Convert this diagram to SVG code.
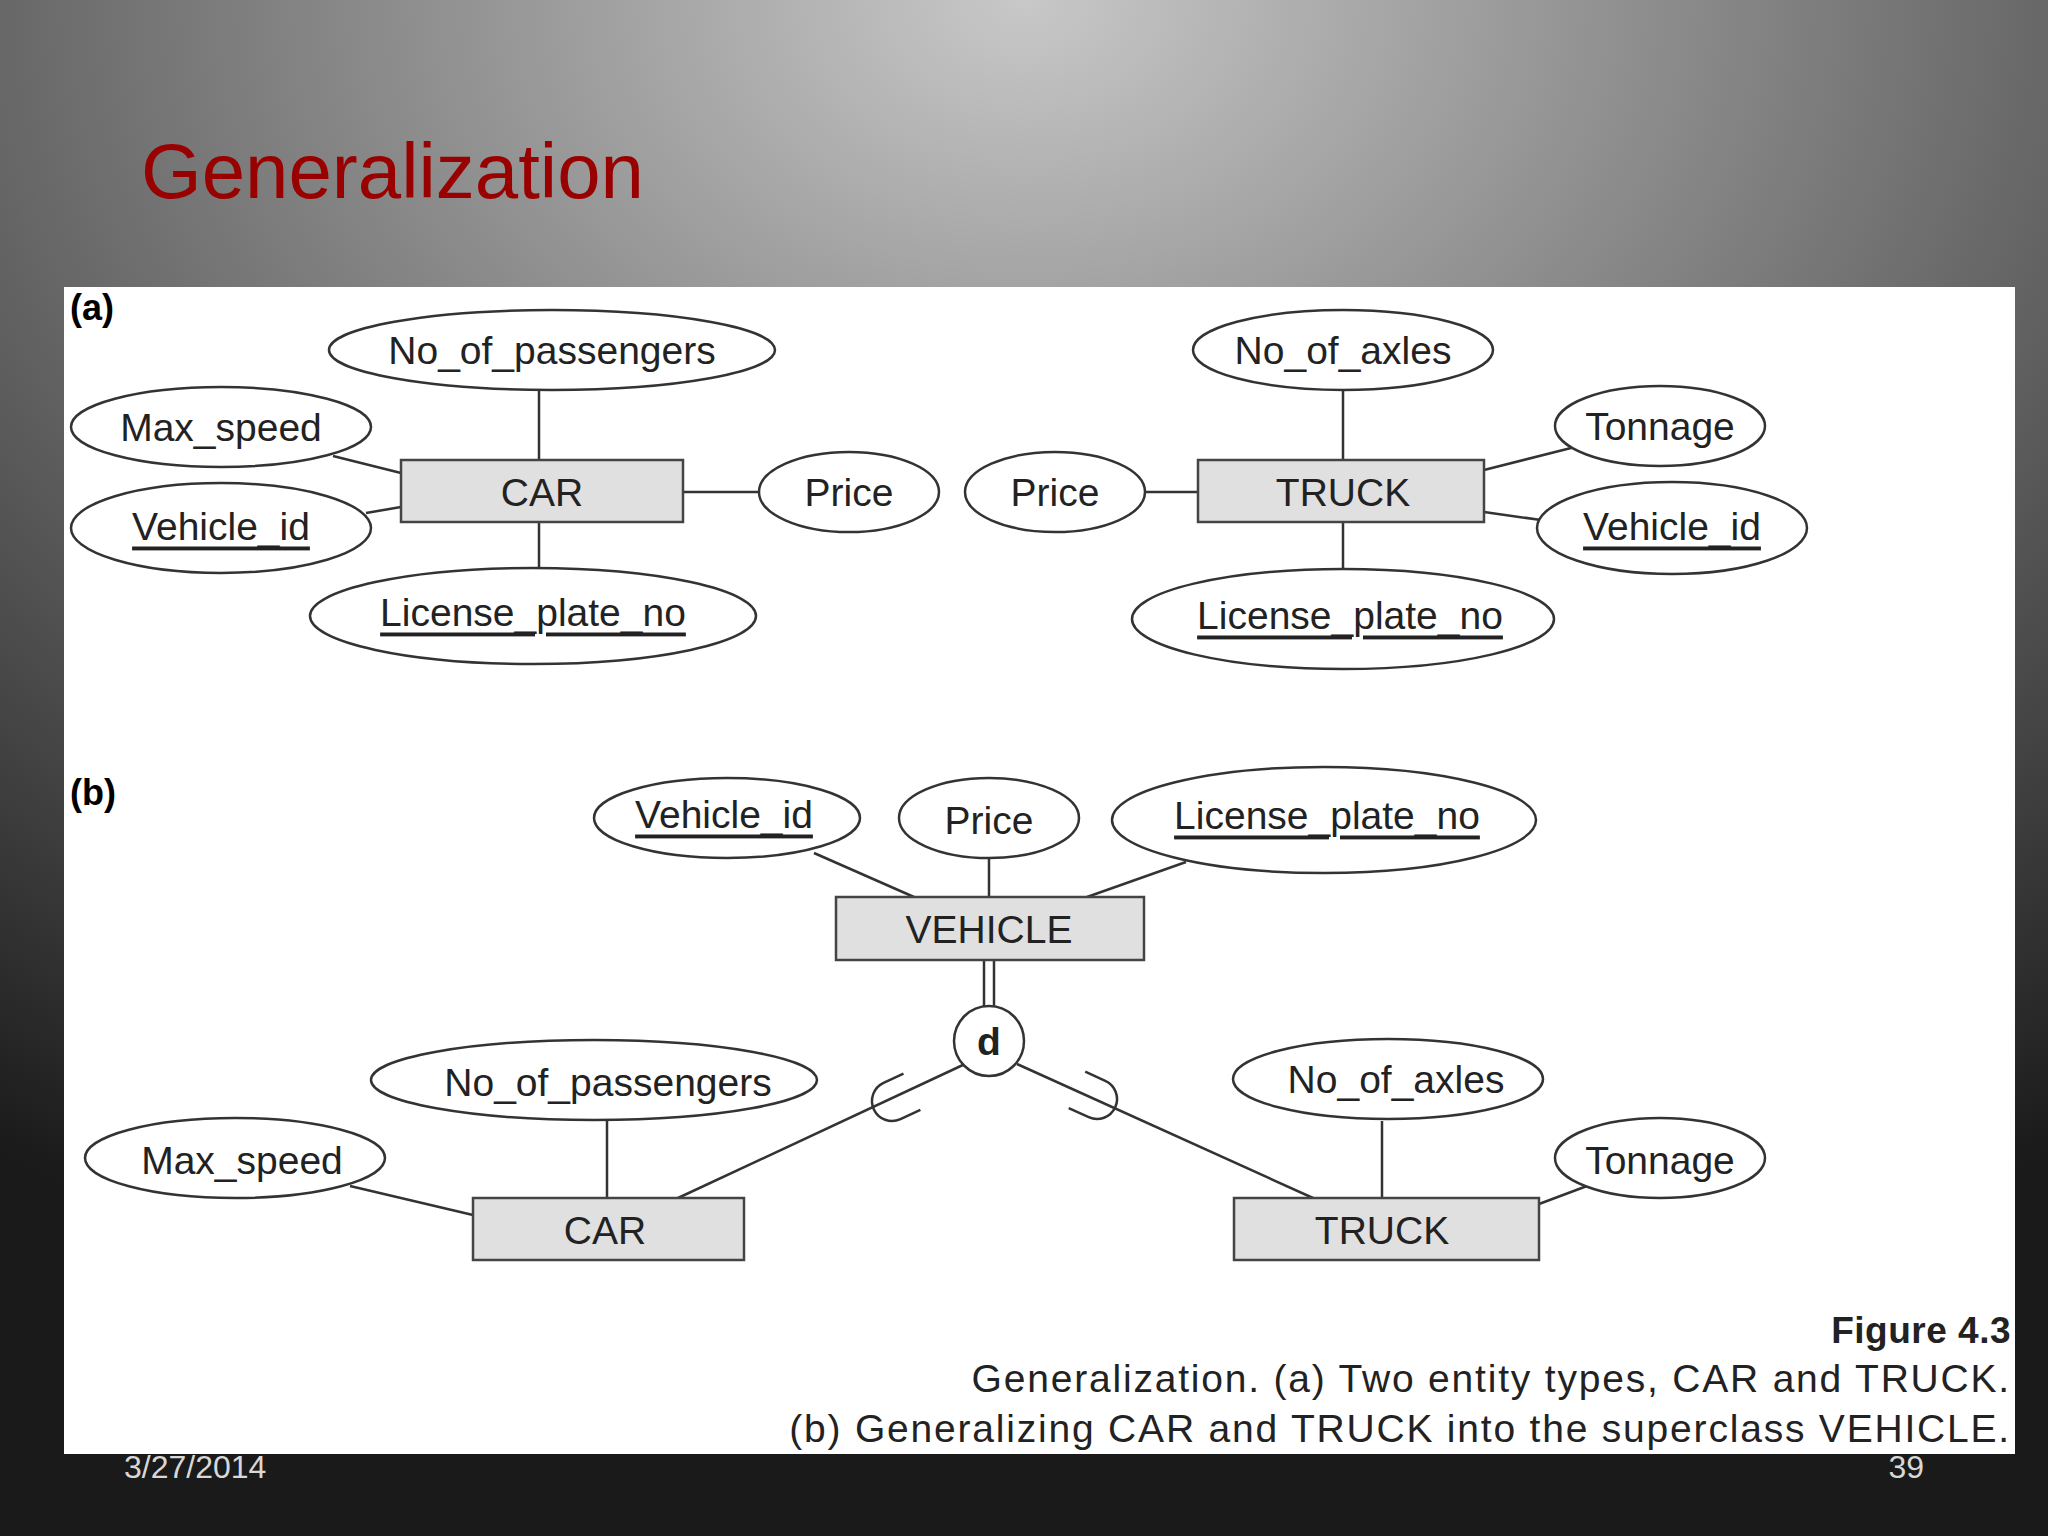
<svg xmlns="http://www.w3.org/2000/svg" width="2048" height="1536" viewBox="0 0 2048 1536">
<defs>
<radialGradient id="bg" cx="0.5" cy="0" r="0.9">
<stop offset="0" stop-color="#c8c8c8"/><stop offset="0.45" stop-color="#7a7a7a"/><stop offset="1" stop-color="#1a1a1a"/>
</radialGradient>
<path id="sub" d="M22,-20 L0,-20 A20,20 0 0 0 0,20 L22,20" fill="none"/>
</defs>
<style>
.e{fill:#fff;stroke:#333;stroke-width:2.5}
.r{fill:#e0e0e0;stroke:#444;stroke-width:2.5}
.t{font-family:"Liberation Sans",Arial,sans-serif;font-size:39px;fill:#222;text-anchor:middle;dominant-baseline:central}
.u{text-decoration:underline}
.c line,.c path,.c use{stroke:#333;stroke-width:2.5;fill:none}
.cap{font-family:"Liberation Sans",Arial,sans-serif;font-size:39px;letter-spacing:1.8px;fill:#222;text-anchor:end}
</style>
<rect width="2048" height="1536" fill="url(#bg)"/>
<text x="141" y="198" font-family="Liberation Sans,Arial,sans-serif" font-size="78" fill="#990000">Generalization</text>
<rect x="64" y="287" width="1951" height="1167" fill="#fff"/>
<text x="70" y="320" font-family="Liberation Sans,Arial,sans-serif" font-size="36" font-weight="bold">(a)</text>
<text x="70" y="805" font-family="Liberation Sans,Arial,sans-serif" font-size="36" font-weight="bold">(b)</text>
<g class="c" id="connectors">
<line x1="539" y1="460" x2="539" y2="391"/><line x1="333" y1="456" x2="401" y2="473"/><line x1="366" y1="513" x2="401" y2="507"/>
<line x1="683" y1="492" x2="759" y2="492"/><line x1="539" y1="522" x2="539" y2="568"/>
<line x1="1343" y1="460" x2="1343" y2="391"/><line x1="1484" y1="470" x2="1571" y2="448"/><line x1="1484" y1="512" x2="1541" y2="520"/>
<line x1="1146" y1="492" x2="1198" y2="492"/><line x1="1343" y1="522" x2="1343" y2="569"/>
<line x1="814" y1="853" x2="914" y2="897"/><line x1="989" y1="858" x2="989" y2="897"/><line x1="1186" y1="862" x2="1087" y2="897"/>
<line x1="984" y1="960" x2="984" y2="1007"/><line x1="994" y1="960" x2="994" y2="1007"/>
<line x1="965" y1="1064" x2="678" y2="1198"/><line x1="1017" y1="1064" x2="1313" y2="1198"/>
<use href="#sub" transform="translate(892,1101) rotate(-25)"/>
<use href="#sub" transform="translate(1097,1099) rotate(204.4)"/>
<line x1="607" y1="1121" x2="607" y2="1198"/><line x1="350" y1="1186" x2="473" y2="1215"/>
<line x1="1382" y1="1121" x2="1382" y2="1198"/><line x1="1539" y1="1204" x2="1587" y2="1186"/>
</g>
<g id="a_car"><rect class="r" x="401" y="460" width="282" height="62"/><text class="t" x="542" y="492">CAR</text></g>
<g id="a_car_pass"><ellipse class="e" cx="552" cy="350" rx="223" ry="40"/><text class="t" x="552" y="350">No_of_passengers</text></g>
<g id="a_car_speed"><ellipse class="e" cx="221" cy="427" rx="150" ry="40"/><text class="t" x="221" y="427">Max_speed</text></g>
<g id="a_car_vid"><ellipse class="e" cx="221" cy="528" rx="150" ry="45"/><text class="t u" x="221" y="526">Vehicle_id</text></g>
<g id="a_car_price"><ellipse class="e" cx="849" cy="492" rx="90" ry="40"/><text class="t" x="849" y="492">Price</text></g>
<g id="a_car_lic"><ellipse class="e" cx="533" cy="616" rx="223" ry="48"/><text class="t u" x="533" y="612">License_plate_no</text></g>
<g id="a_truck"><rect class="r" x="1198" y="460" width="286" height="62"/><text class="t" x="1343" y="492">TRUCK</text></g>
<g id="a_tr_axles"><ellipse class="e" cx="1343" cy="350" rx="150" ry="40"/><text class="t" x="1343" y="350">No_of_axles</text></g>
<g id="a_tr_ton"><ellipse class="e" cx="1660" cy="426" rx="105" ry="40"/><text class="t" x="1660" y="426">Tonnage</text></g>
<g id="a_tr_vid"><ellipse class="e" cx="1672" cy="528" rx="135" ry="46"/><text class="t u" x="1672" y="526">Vehicle_id</text></g>
<g id="a_tr_price"><ellipse class="e" cx="1055" cy="492" rx="90" ry="40"/><text class="t" x="1055" y="492">Price</text></g>
<g id="a_tr_lic"><ellipse class="e" cx="1343" cy="619" rx="211" ry="50"/><text class="t u" x="1350" y="615">License_plate_no</text></g>
<g id="vehicle"><rect class="r" x="836" y="897" width="308" height="63"/><text class="t" x="989" y="929">VEHICLE</text></g>
<g id="b_vid"><ellipse class="e" cx="727" cy="818" rx="133" ry="40"/><text class="t u" x="724" y="814">Vehicle_id</text></g>
<g id="b_price"><ellipse class="e" cx="989" cy="818" rx="90" ry="40"/><text class="t" x="989" y="820">Price</text></g>
<g id="b_lic"><ellipse class="e" cx="1324" cy="820" rx="212" ry="53"/><text class="t u" x="1327" y="815">License_plate_no</text></g>
<g id="d"><circle class="e" cx="989" cy="1041" r="35"/><text class="t" x="989" y="1041" style="font-weight:bold">d</text></g>
<g id="b_car"><rect class="r" x="473" y="1198" width="271" height="62"/><text class="t" x="605" y="1230">CAR</text></g>
<g id="b_car_pass"><ellipse class="e" cx="594" cy="1080" rx="223" ry="40"/><text class="t" x="608" y="1082">No_of_passengers</text></g>
<g id="b_car_speed"><ellipse class="e" cx="235" cy="1158" rx="150" ry="40"/><text class="t" x="242" y="1160">Max_speed</text></g>
<g id="b_truck"><rect class="r" x="1234" y="1198" width="305" height="62"/><text class="t" x="1382" y="1230">TRUCK</text></g>
<g id="b_tr_axles"><ellipse class="e" cx="1388" cy="1079" rx="155" ry="40"/><text class="t" x="1396" y="1079">No_of_axles</text></g>
<g id="b_tr_ton"><ellipse class="e" cx="1660" cy="1158" rx="105" ry="40"/><text class="t" x="1660" y="1160">Tonnage</text></g>
<text class="cap" x="2011" y="1343" style="font-size:37px;font-weight:bold;letter-spacing:0.5px">Figure 4.3</text>
<text class="cap" x="2011" y="1392">Generalization. (a) Two entity types, CAR and TRUCK.</text>
<text class="cap" x="2011" y="1442">(b) Generalizing CAR and TRUCK into the superclass VEHICLE.</text>
<text x="124" y="1478" font-family="Liberation Sans,Arial,sans-serif" font-size="32" fill="#d8d8d8">3/27/2014</text>
<text x="1924" y="1478" font-family="Liberation Sans,Arial,sans-serif" font-size="32" fill="#d8d8d8" text-anchor="end">39</text>
</svg>
